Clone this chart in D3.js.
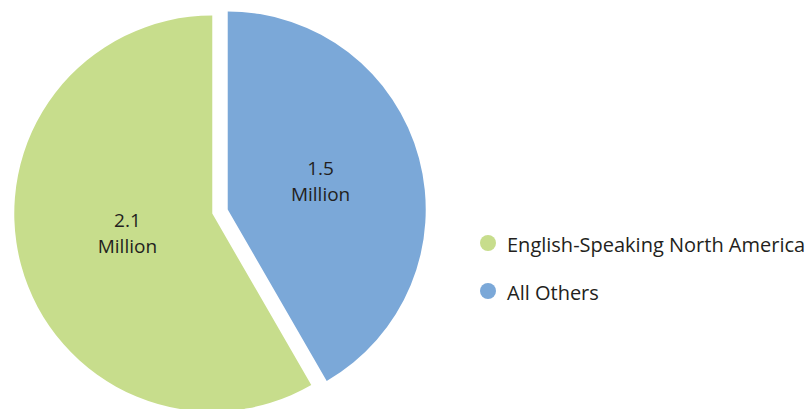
<!DOCTYPE html>
<html>
<head>
<meta charset="utf-8">
<title>Pie</title>
<style>
body { margin: 0; background: #fff; }
text { font-family: "Open Sans", "Noto Sans", sans-serif; fill: #231f20; }
</style>
</head>
<body>
<script src="https://cdn.jsdelivr.net/npm/d3@7"></script>
<script>
var categories = ["All Others", "English-Speaking North America"];
var values = [1.5, 2.1];
var valueLabels = ["1.5", "2.1"];
var legendOrder = ["English-Speaking North America", "All Others"];

var colors = d3.scaleOrdinal()
	.domain(categories)
	.range(["#7ba8d8", "#c7dd8c"]);

var width = 809, height = 409;
var radius = 198;
var explode = 8;

var svg = d3.select("body")
	.append("svg")
	.attr("width", width)
	.attr("height", height);

var pie = d3.pie().sort(null).value(function(d){ return d; });
var arcs = pie(values);

var arc = d3.arc().innerRadius(0).outerRadius(radius);
var labelArc = d3.arc().innerRadius(92).outerRadius(92);

var g = svg.append("g").attr("transform", "translate(220,211.5)");

var slice = g.selectAll(".slice")
	.data(arcs)
	.enter()
	.append("g")
	.attr("class", "slice")
	.attr("transform", function(d){
		var a = (d.startAngle + d.endAngle) / 2;
		return "translate(" + (Math.sin(a) * explode) + "," + (-Math.cos(a) * explode) + ")";
	});

slice.append("path")
	.attr("d", arc)
	.attr("fill", function(d, i){ return colors(categories[i]); });

var lbl = slice.append("text")
	.attr("text-anchor", "middle")
	.attr("font-size", 19)
	.attr("transform", function(d){
		var c = labelArc.centroid(d);
		return "translate(" + (c[0] + 4) + "," + (c[1] + 1) + ")";
	});
lbl.append("tspan").attr("x", 0).attr("dy", "-0.6em").text(function(d, i){ return valueLabels[i]; });
lbl.append("tspan").attr("x", 0).attr("dy", "1.35em").text("Million");

var legend = svg.selectAll(".legend")
	.data(legendOrder)
	.enter()
	.append("g")
	.attr("class", "legend")
	.attr("transform", function(d, i){ return "translate(488," + (243 + i * 48) + ")"; });

legend.append("circle")
	.attr("r", 8)
	.attr("fill", function(d){ return colors(d); });

legend.append("text")
	.attr("x", 19)
	.attr("y", 9)
	.attr("font-size", 20)
	.text(function(d){ return d; });
</script>
</body>
</html>
